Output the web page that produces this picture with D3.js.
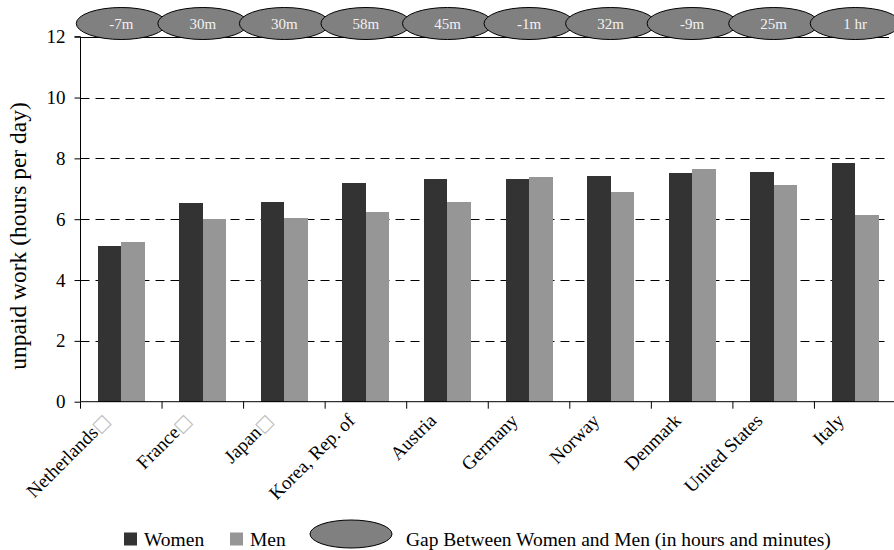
<!DOCTYPE html>
<html>
<head>
<meta charset="utf-8">
<script src="https://cdn.jsdelivr.net/npm/d3@7"></script>
<style>
  html, body { margin: 0; padding: 0; background: #fff; }
  svg { display: block; font-family: "Liberation Serif", "Times New Roman", serif; }
</style>
</head>
<body>
<svg id="chart" width="894" height="550"></svg>
<script>
const categories = ["Netherlands", "France", "Japan", "Korea, Rep. of", "Austria", "Germany", "Norway", "Denmark", "United States", "Italy"];
const flagged = [true, true, true, false, false, false, false, false, false, false];
const women = [5.12, 6.52, 6.55, 7.19, 7.32, 7.32, 7.42, 7.52, 7.55, 7.85];
const men = [5.25, 6.01, 6.04, 6.24, 6.56, 7.38, 6.89, 7.65, 7.14, 6.14];
const gapLabels = ["-7m", "30m", "30m", "58m", "45m", "-1m", "32m", "-9m", "25m", "1 hr"];
const seriesNames = ["Women", "Men"];
const seriesColors = ["#333333", "#969696"];
const yTicks = [0, 2, 4, 6, 8, 10, 12];

(function () {
const serif = "Liberation Serif, Times New Roman, serif";
const svg = d3.select("#chart");
const pLeft = 80.5, pRight = 896, pTop = 36.7, pBottom = 401.7, gridEnd = 889;

const x = d3.scaleBand().domain(categories).range([pLeft, pRight]).paddingInner(0).paddingOuter(0);
const xs = d3.scaleBand().domain(seriesNames).range([0, x.bandwidth()]).paddingInner(0).paddingOuter(0.735);
const y = d3.scaleLinear().domain([0, 12]).range([pBottom, pTop]);
const color = d3.scaleOrdinal().domain(seriesNames).range(seriesColors);

// gridlines
svg.append("g").selectAll("line").data(yTicks.filter(t => t > 0 && t < 12)).join("line")
  .attr("x1", pLeft).attr("x2", gridEnd)
  .attr("y1", d => Math.round(y(d)) + 0.5).attr("y2", d => Math.round(y(d)) + 0.5)
  .attr("stroke", "#000").attr("stroke-width", 1).attr("stroke-dasharray", "9,6");
// top border line
svg.append("line").attr("x1", pLeft).attr("x2", gridEnd).attr("y1", Math.round(y(12)) + 0.5).attr("y2", Math.round(y(12)) + 0.5)
  .attr("stroke", "#000");

// bars
const rows = categories.map((c, i) => ({ c, vals: [{ s: "Women", v: women[i] }, { s: "Men", v: men[i] }] }));
const groups = svg.append("g").selectAll("g").data(rows).join("g")
  .attr("transform", d => `translate(${x(d.c)},0)`);
groups.selectAll("rect").data(d => d.vals).join("rect")
  .attr("x", d => xs(d.s)).attr("width", xs.bandwidth())
  .attr("y", d => y(d.v)).attr("height", d => y(0) - y(d.v))
  .attr("fill", d => color(d.s))
  .attr("shape-rendering", "crispEdges");

// y axis
const yAxis = svg.append("g").attr("transform", `translate(${pLeft},0)`)
  .call(d3.axisLeft(y).tickValues(yTicks).tickSize(6).tickPadding(9).tickFormat(d3.format("d")))
  .attr("font-family", serif).attr("font-size", 19);
yAxis.selectAll("text").attr("fill", "#000");
yAxis.selectAll("line,path").attr("stroke", "#000");
yAxis.select(".domain").attr("d", `M-6,${y(12)}H0V${y(0)}`);

// x axis
const xAxis = svg.append("g").attr("transform", `translate(0,${pBottom})`);
xAxis.append("line").attr("x1", pLeft).attr("x2", 894).attr("y1", 0).attr("y2", 0).attr("stroke", "#000");
xAxis.selectAll("line.tk").data(categories).join("line").attr("class", "tk")
  .attr("x1", d => x(d)).attr("x2", d => x(d)).attr("y1", 0).attr("y2", 7).attr("stroke", "#000");

const lbl = svg.append("g").selectAll("text").data(categories).join("text")
  .attr("transform", d => `translate(${x(d) + x.bandwidth() / 2 - 10},${pBottom + 20}) rotate(-45)`)
  .attr("text-anchor", "end").attr("font-size", 19).attr("fill", "#000");
lbl.append("tspan").text(d => d);
lbl.filter((d, i) => flagged[i]).append("tspan").text("\u25A1").attr("fill", "#bbb").attr("font-size", 18)
  .attr("font-family", "DejaVu Sans, sans-serif");

// y title
svg.append("text").attr("transform", `translate(26,236) rotate(-90)`)
  .attr("text-anchor", "middle").attr("font-size", 23.5).attr("fill", "#000")
  .text("unpaid work (hours per day)");

// gap ellipses
const eg = svg.append("g").selectAll("g").data(categories).join("g")
  .attr("transform", d => `translate(${x(d) + x.bandwidth() / 2},23.5)`);
eg.append("ellipse").attr("rx", 45).attr("ry", 16).attr("fill", "#808080").attr("stroke", "#000").attr("stroke-width", 1);
eg.append("text").attr("text-anchor", "middle").attr("y", 5).attr("font-size", 15).attr("fill", "#f2f2f2")
  .text((d, i) => gapLabels[i]);

// legend
const leg = svg.append("g");
const legItems = [{ s: "Women", x: 124 }, { s: "Men", x: 230 }];
leg.selectAll("rect").data(legItems).join("rect")
  .attr("x", d => d.x).attr("y", 532.5).attr("width", 13).attr("height", 13).attr("fill", d => color(d.s));
leg.selectAll("text.s").data(legItems).join("text").attr("class", "s")
  .attr("x", d => d.x + 20).attr("y", 546).attr("font-size", 19.5).attr("fill", "#000").text(d => d.s);
leg.append("ellipse").attr("cx", 351).attr("cy", 534).attr("rx", 41).attr("ry", 14)
  .attr("fill", "#808080").attr("stroke", "#000");
leg.append("text").attr("x", 406).attr("y", 546).attr("font-size", 19.5).attr("fill", "#000")
  .text("Gap Between Women and Men (in hours and minutes)");
})();
</script>
</body>
</html>
